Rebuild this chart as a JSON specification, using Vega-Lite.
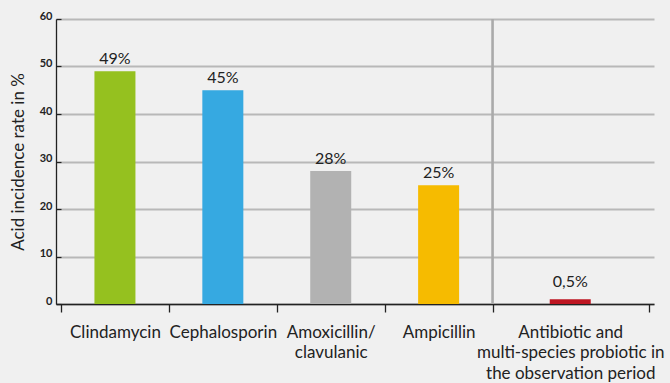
{
  "$schema": "https://vega.github.io/schema/vega-lite/v6.json",
  "width": 598,
  "height": 285,
  "autosize": {"type": "none"},
  "padding": {"left": 56, "top": 19, "right": 16, "bottom": 79},
  "background": "#f0f0f0",
  "config": {"view": {"stroke": null}, "font": "Lato"},
  "datasets": {
    "bars": [
      {"drug": "Clindamycin", "pos": 0.5, "rate": 49, "label": "49%"},
      {"drug": "Cephalosporin", "pos": 1.5, "rate": 45, "label": "45%"},
      {"drug": "Amoxicillin/clavulanic", "pos": 2.5, "rate": 28, "label": "28%"},
      {"drug": "Ampicillin", "pos": 3.5, "rate": 25, "label": "25%"},
      {"drug": "Antibiotic and multi-species probiotic in the observation period", "pos": 4.72, "rate": 1, "label": "0,5%"}
    ],
    "separator": [{"boundary": 4}]
  },
  "data": {"name": "bars"},
  "resolve": {"axis": {"x": "independent", "y": "shared"}},
  "layer": [
    {
      "mark": {"type": "bar", "size": 41, "orient": "vertical"},
      "encoding": {
        "x": {
          "field": "pos", "type": "quantitative",
          "scale": {"domain": [0, 5.45], "nice": false, "zero": false},
          "axis": {
            "orient": "bottom", "title": null, "values": [0, 1, 2, 3, 4, 5.45],
            "labels": false, "grid": false, "tickSize": 8, "tickColor": "#222222", "tickWidth": 1.3,
            "domainColor": "#222222", "domainWidth": 1.3
          }
        },
        "y": {
          "field": "rate", "type": "quantitative",
          "scale": {"domain": [0, 60], "nice": false},
          "axis": {
            "orient": "left",
            "title": "Acid incidence rate in %", "titleFontSize": 17, "titleFontWeight": "normal",
            "titleColor": "#222222", "titlePadding": 12, "titleFont": "Lato",
            "values": [0, 10, 20, 30, 40, 50, 60],
            "grid": true, "gridColor": "#b8b8b8", "gridWidth": 1.8,
            "tickSize": -5, "tickColor": "#222222", "tickWidth": 1.2,
            "domainColor": "#222222", "domainWidth": 1.3,
            "labelFont": "Lato", "labelFontSize": 11, "labelFontWeight": "bold", "labelColor": "#222222",
            "labelBaseline": "alphabetic", "labelPadding": 9, "labelFlush": false, "labelOverlap": false
          }
        },
        "color": {
          "field": "drug", "type": "nominal", "legend": null,
          "scale": {
            "domain": ["Clindamycin", "Cephalosporin", "Amoxicillin/clavulanic", "Ampicillin", "Antibiotic and multi-species probiotic in the observation period"],
            "range": ["#95c11f", "#36a9e1", "#b2b2b2", "#f6bb00", "#be1622"]
          }
        }
      }
    },
    {
      "data": {"name": "separator"},
      "mark": {"type": "rule", "color": "#aaaaaa", "strokeWidth": 2.6},
      "encoding": {
        "x": {"field": "boundary", "type": "quantitative", "axis": null}
      }
    },
    {
      "transform": [{"filter": "datum.rate > 5"}],
      "mark": {"type": "text", "dy": -7, "fontSize": 16, "color": "#222222", "baseline": "alphabetic", "align": "center"},
      "encoding": {
        "x": {
          "field": "pos", "type": "quantitative",
          "axis": {
            "orient": "bottom", "title": null, "values": [0.5, 1.5, 2.5, 3.5, 4.72],
            "ticks": false, "domain": false, "grid": false,
            "labelExpr": "datum.value == 0.5 ? 'Clindamycin' : datum.value == 1.5 ? 'Cephalosporin' : datum.value == 2.5 ? ['Amoxicillin/', 'clavulanic'] : datum.value == 3.5 ? 'Ampicillin' : ['Antibiotic and', 'multi-species probiotic in', 'the observation period']",
            "labelFont": "Lato", "labelFontSize": 17, "labelColor": "#222222", "labelLineHeight": 20.5,
            "labelBaseline": "top", "labelPadding": 20, "labelFlush": false, "labelOverlap": false, "labelBound": false, "labelAlign": "center", "labelLimit": 400
          }
        },
        "y": {"field": "rate", "type": "quantitative"},
        "text": {"field": "label"}
      }
    },
    {
      "transform": [{"filter": "datum.rate <= 5"}],
      "mark": {"type": "text", "dy": -12, "fontSize": 16, "color": "#222222", "baseline": "alphabetic", "align": "center"},
      "encoding": {
        "x": {"field": "pos", "type": "quantitative", "axis": null},
        "y": {"field": "rate", "type": "quantitative"},
        "text": {"field": "label"}
      }
    }
  ]
}
